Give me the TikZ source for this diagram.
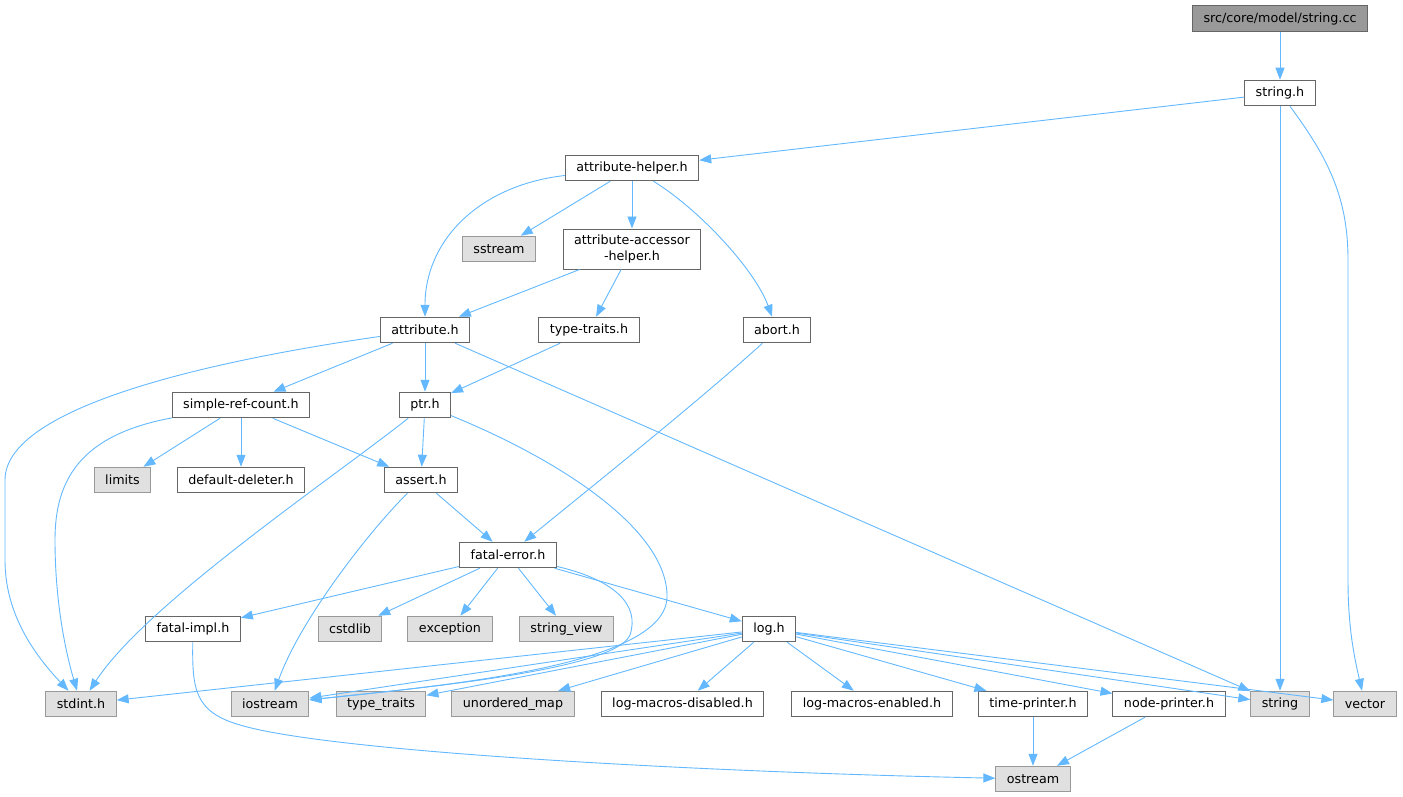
\documentclass[tikz,border=0pt]{standalone}
\usepackage{fontspec}
\setmainfont{DejaVu Sans}
\usetikzlibrary{arrows.meta}
\definecolor{edgeblue}{HTML}{63B8FF}
\begin{document}
\begin{tikzpicture}[x=1pt,y=-1pt,
  font=\fontsize{12.7}{15.5}\selectfont,
  file/.style={draw=black!60,fill=white,line width=1pt,inner xsep=11pt,inner ysep=0pt,minimum height=25.5pt},
  sys/.style={file,draw=black!40,fill=black!12},
  root/.style={file,fill=black!40},
  dep/.style={draw=edgeblue,line width=0.9pt,-{Triangle[length=12pt,width=9pt]}}]
\useasboundingbox (0,0) rectangle (1403,797);
\node [root] (cc) at (1280,18.5) {src/core/model/string.cc};
\node [file] (strh) at (1280,93) {string.h};
\node [file] (ahelper) at (632,168) {attribute-helper.h};
\node [sys] (sstream) at (499,249) {sstream};
\node [file,align=center,minimum height=40pt] (accessor) at (632,249) {attribute-accessor\\-helper.h};
\node [file] (attr) at (425,330) {attribute.h};
\node [file] (ttraits) at (589,330) {type-traits.h};
\node [file] (abort) at (777,330) {abort.h};
\node [file] (srefc) at (241,405) {simple-ref-count.h};
\node [file] (ptr) at (425,405) {ptr.h};
\node [sys] (limits) at (122.5,480) {limits};
\node [file] (deleter) at (241,480) {default-deleter.h};
\node [file] (assert) at (421,480) {assert.h};
\node [file] (ferr) at (508,555) {fatal-error.h};
\node [file] (fimpl) at (193,629) {fatal-impl.h};
\node [sys] (cstdlib) at (350,629) {cstdlib};
\node [sys] (exception) at (450,629) {exception};
\node [sys] (strview) at (566.5,629) {string\_view};
\node [file] (log) at (769,629) {log.h};
\node [sys] (stdint) at (81,704) {stdint.h};
\node [sys] (iostream) at (270,704) {iostream};
\node [sys] (typetraits) at (381,704) {type\_traits};
\node [sys] (umap) at (513,704) {unordered\_map};
\node [file] (lmdis) at (682.5,704) {log-macros-disabled.h};
\node [file] (lmen) at (872,704) {log-macros-enabled.h};
\node [file] (tprint) at (1033,704) {time-printer.h};
\node [file] (nprint) at (1169,704) {node-printer.h};
\node [sys] (string) at (1280,704) {string};
\node [sys] (vector) at (1365,704) {vector};
\node [sys] (ostream) at (1033,779) {ostream};
\draw [dep] (cc) -- (strh);
\draw [dep] (strh) -- (ahelper);
\draw [dep] (strh) -- (string);
\draw [dep] (strh) .. controls (1330,160) and (1348,200) .. (1348,260) -- (1348,580) .. controls (1348,630) and (1355,660) .. (vector);
\draw [dep] (ahelper) .. controls (480,185) and (425,240) .. (attr);
\draw [dep] (ahelper) -- (sstream);
\draw [dep] (ahelper) -- (accessor);
\draw [dep] (ahelper) .. controls (700,210) and (755,270) .. (abort);
\draw [dep] (accessor) -- (attr);
\draw [dep] (accessor) -- (ttraits);
\draw [dep] (attr) .. controls (250,355) and (5,400) .. (5,480) -- (5,560) .. controls (5,610) and (30,650) .. (stdint);
\draw [dep] (attr) -- (srefc);
\draw [dep] (attr) -- (ptr);
\draw [dep] (attr) -- (string);
\draw [dep] (ttraits) -- (ptr);
\draw [dep] (abort) .. controls (700,400) and (600,480) .. (ferr);
\draw [dep] (srefc) .. controls (80,435) and (55,480) .. (55,540) .. controls (55,600) and (65,650) .. (stdint);
\draw [dep] (srefc) -- (limits);
\draw [dep] (srefc) -- (deleter);
\draw [dep] (srefc) -- (assert);
\draw [dep] (ptr) -- (assert);
\draw [dep] (ptr) .. controls (330,480) and (145,605) .. (stdint);
\draw [dep] (ptr) .. controls (560,460) and (668,530) .. (667,597) .. controls (666,665) and (450,685) .. (iostream);
\draw [dep] (assert) -- (ferr);
\draw [dep] (assert) .. controls (370,530) and (300,620) .. (iostream);
\draw [dep] (ferr) -- (fimpl);
\draw [dep] (ferr) -- (cstdlib);
\draw [dep] (ferr) -- (exception);
\draw [dep] (ferr) -- (strview);
\draw [dep] (ferr) -- (log);
\draw [dep] (ferr) .. controls (615,580) and (640,605) .. (630,635) .. controls (615,670) and (420,688) .. (iostream);
\draw [dep] (fimpl) .. controls (192,690) and (195,712) .. (240,725) .. controls (330,752) and (700,772) .. (ostream);
\draw [dep] (log) -- (stdint);
\draw [dep] (log) -- (iostream);
\draw [dep] (log) -- (typetraits);
\draw [dep] (log) -- (umap);
\draw [dep] (log) -- (lmdis);
\draw [dep] (log) -- (lmen);
\draw [dep] (log) -- (tprint);
\draw [dep] (log) -- (nprint);
\draw [dep] (log) -- (string);
\draw [dep] (log) -- (vector);
\draw [dep] (tprint) -- (ostream);
\draw [dep] (nprint) -- (ostream);
\end{tikzpicture}
\end{document}
